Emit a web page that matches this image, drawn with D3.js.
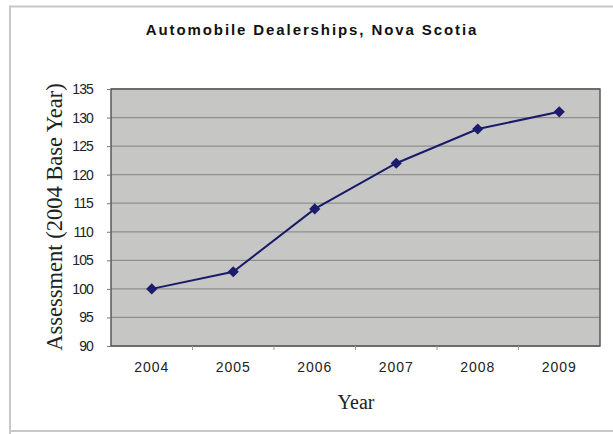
<!DOCTYPE html>
<html><head><meta charset="utf-8">
<script src="https://cdn.jsdelivr.net/npm/d3@7/dist/d3.min.js"></script>
<style>body{margin:0;background:#fff;}svg{display:block;}</style>
</head><body>
<svg id="c" width="613" height="434"></svg>
<script>
const years = ["2004","2005","2006","2007","2008","2009"];
const values = [100, 103, 114, 122, 128, 131];
const yTicks = [90, 95, 100, 105, 110, 115, 120, 125, 130, 135];
const title = "Automobile Dealerships, Nova Scotia";
const xTitle = "Year";
const yTitle = "Assessment (2004 Base Year)";

const svg = d3.select("#c");
const m = {left: 111, top: 89, right: 600, bottom: 346};

// outer frame
svg.append("path").attr("d", "M10,440 L10,6.5 L620,6.5").attr("fill","none").attr("stroke","#c8c8c8").attr("stroke-width",2);
svg.append("line").attr("x1",10).attr("x2",620).attr("y1",431).attr("y2",431).attr("stroke","#c8c8c8").attr("stroke-width",2);

const x = d3.scaleBand().domain(years).range([m.left, m.right]);
const y = d3.scaleLinear().domain([90,135]).range([m.bottom, m.top]);

svg.append("rect").attr("x",m.left).attr("y",m.top).attr("width",m.right-m.left).attr("height",m.bottom-m.top).attr("fill","#c6c7c5");

svg.append("g").selectAll("line").data(yTicks).join("line")
  .attr("x1",m.left).attr("x2",m.right).attr("y1",d=>y(d)).attr("y2",d=>y(d))
  .attr("stroke","#8e8e8e").attr("stroke-width",1.3);

svg.append("rect").attr("x",m.left).attr("y",m.top).attr("width",m.right-m.left).attr("height",m.bottom-m.top).attr("fill","none").attr("stroke","#5a5a5a").attr("stroke-width",1.5);

const yAxis = svg.append("g").attr("transform",`translate(${m.left},0)`)
  .call(d3.axisLeft(y).tickValues(yTicks).tickSize(4).tickPadding(14));
yAxis.select(".domain").remove();
yAxis.selectAll("line").attr("stroke","#777");
yAxis.selectAll("text").attr("font-family","Arial, Liberation Sans, sans-serif").attr("font-size",14).attr("fill","#222").attr("letter-spacing","-0.9px");

const xAxis = svg.append("g").attr("transform",`translate(0,${m.bottom})`)
  .call(d3.axisBottom(x).tickSize(0).tickPadding(16));
xAxis.select(".domain").remove();
xAxis.selectAll("text").attr("font-family","Arial, Liberation Sans, sans-serif").attr("font-size",14).attr("fill","#222").attr("letter-spacing","1px");
svg.append("g").selectAll("line").data(years.slice(1)).join("line")
  .attr("x1",d=>x(d)).attr("x2",d=>x(d)).attr("y1",m.bottom).attr("y2",m.bottom+4).attr("stroke","#999");

const line = d3.line().x((d,i)=>x(years[i])+x.bandwidth()/2).y(d=>y(d));
svg.append("path").datum(values).attr("d",line).attr("fill","none").attr("stroke","#1a1a6a").attr("stroke-width",2);
svg.append("g").selectAll("path").data(values).join("path")
  .attr("transform",(d,i)=>`translate(${x(years[i])+x.bandwidth()/2},${y(d)})`)
  .attr("d", d3.symbol().type(d3.symbolDiamond2 || d3.symbolDiamond).size(80))
  .attr("fill","#1c1c6c");

svg.append("text").attr("x",312).attr("y",35).attr("text-anchor","middle")
  .attr("font-family","Arial, Liberation Sans, sans-serif").attr("font-size",15).attr("font-weight","bold")
  .attr("letter-spacing","1.9px").attr("fill","#111").text(title);

svg.append("text").attr("x",356).attr("y",409).attr("text-anchor","middle")
  .attr("font-family","Liberation Serif, Times New Roman, serif").attr("font-size",20).attr("fill","#222").text(xTitle);

svg.append("text").attr("transform","translate(62,217) rotate(-90)").attr("text-anchor","middle")
  .attr("font-family","Liberation Serif, Times New Roman, serif").attr("font-size",22.5).attr("fill","#222").text(yTitle);
</script>
</body></html>
